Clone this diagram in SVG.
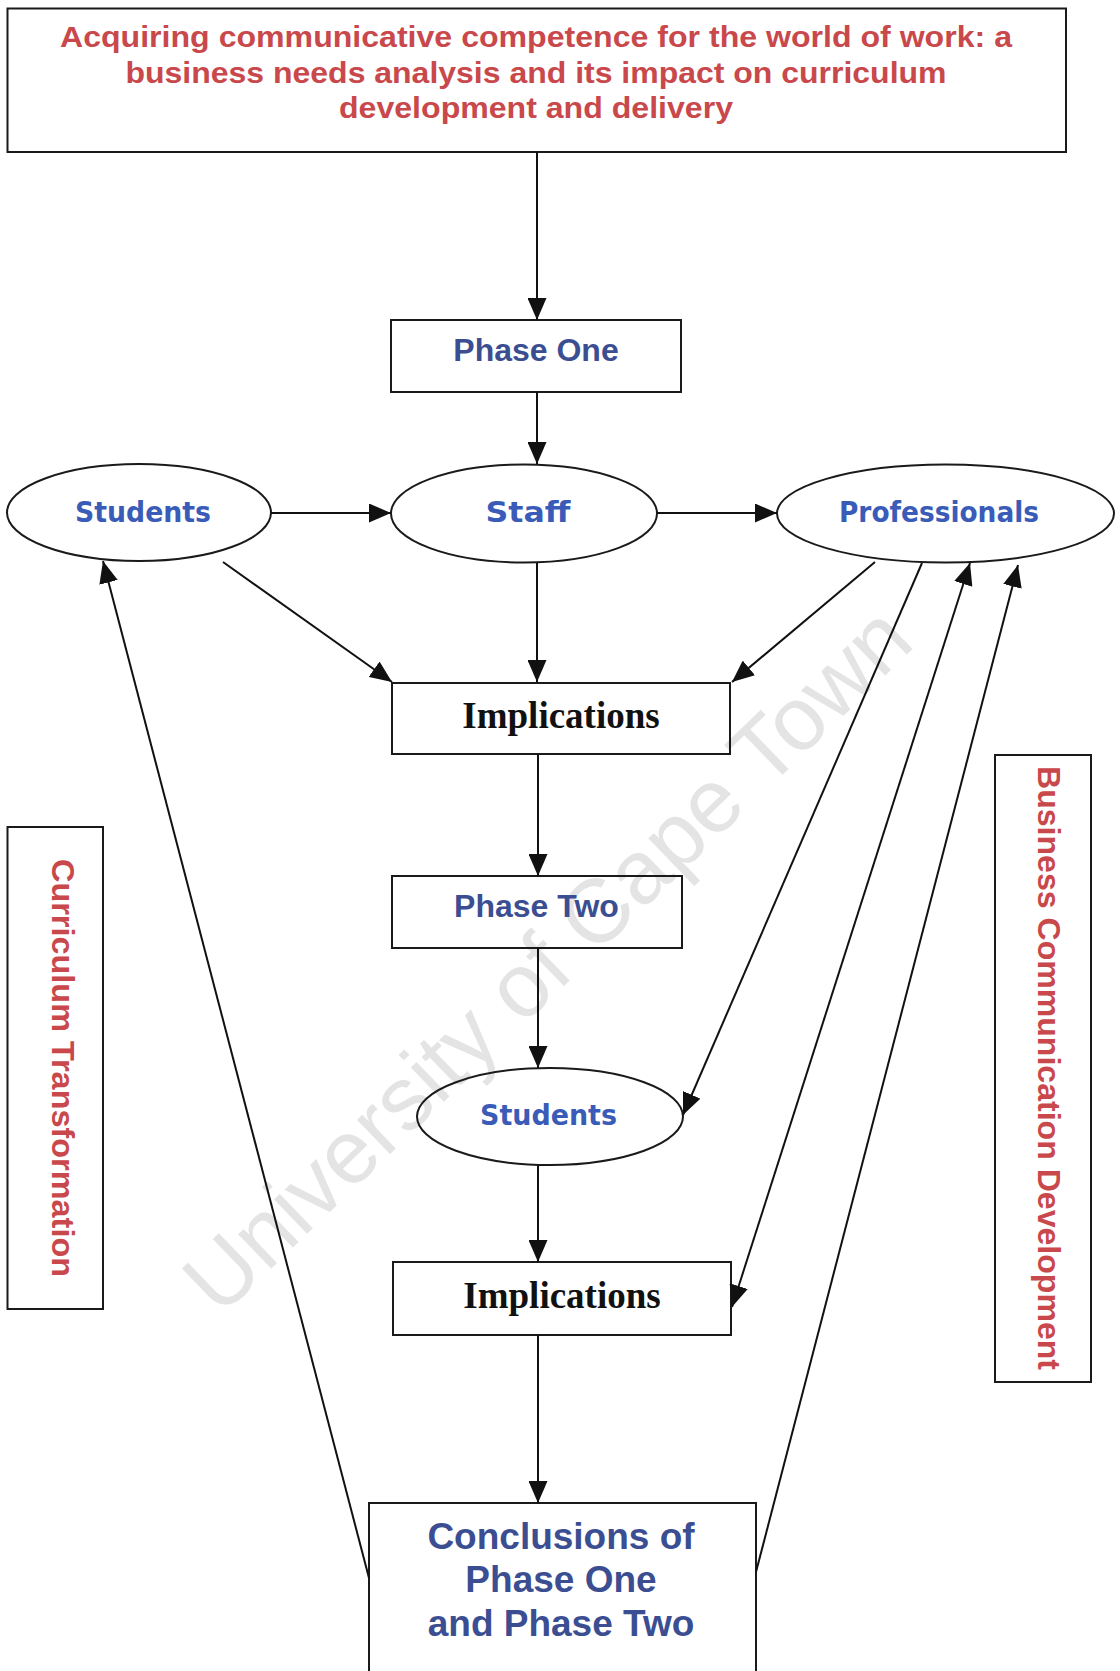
<svg xmlns="http://www.w3.org/2000/svg" width="1120" height="1671" viewBox="0 0 1120 1671">
<defs>
<marker id="ah" markerUnits="userSpaceOnUse" markerWidth="22" markerHeight="19" refX="22" refY="9.5" orient="auto-start-reverse" viewBox="0 0 22 19">
<path d="M0,0 L22,9.5 L0,19 z" fill="#111"/>
</marker>
<style>
.box{fill:none;stroke:#1a1a1a;stroke-width:2}
.ell{fill:none;stroke:#1a1a1a;stroke-width:2}
.red{font-family:"Liberation Sans",Arial,sans-serif;font-weight:bold;fill:#c9484b}
.blue{font-family:"Liberation Sans",Arial,sans-serif;font-weight:bold;fill:#3b4e92}
.comic{font-family:"Comic Sans MS","DejaVu Sans",sans-serif;font-weight:bold;fill:#3a5cb8;font-size:28px}
.imp{font-family:"Liberation Serif","Times New Roman",serif;font-weight:bold;fill:#111;font-size:37px}
.conn line{stroke:#111;stroke-width:2}
.wm{font-family:"Liberation Sans",Arial,sans-serif;fill:#e4e4e4;font-size:90px}
</style>
</defs>
<rect width="1120" height="1671" fill="#fff"/>
<text class="wm" transform="translate(220,1318) rotate(-44)">University of Cape Town</text>

<g id="title">
<rect class="box" x="7.5" y="8.5" width="1058.5" height="143.5"/>
<text class="red" font-size="29" text-anchor="middle" x="536" y="47" textLength="952" lengthAdjust="spacingAndGlyphs">Acquiring communicative competence for the world of work: a</text>
<text class="red" font-size="29" text-anchor="middle" x="536" y="82.5" textLength="821" lengthAdjust="spacingAndGlyphs">business needs analysis and its impact on curriculum</text>
<text class="red" font-size="29" text-anchor="middle" x="536" y="118" textLength="394" lengthAdjust="spacingAndGlyphs">development and delivery</text>
</g>

<g id="phase-one">
<rect class="box" x="391" y="320" width="290" height="72"/>
<text class="blue" font-size="32" text-anchor="middle" x="536" y="361">Phase One</text>
</g>

<g id="students-1">
<ellipse class="ell" cx="139" cy="512.5" rx="132" ry="48.5"/>
<text class="comic" text-anchor="middle" x="143" y="522" textLength="136" lengthAdjust="spacingAndGlyphs">Students</text>
</g>

<g id="staff">
<ellipse class="ell" cx="524" cy="513.5" rx="133" ry="49"/>
<text class="comic" text-anchor="middle" x="528" y="522" textLength="85" lengthAdjust="spacingAndGlyphs">Staff</text>
</g>

<g id="professionals">
<ellipse class="ell" cx="945.5" cy="513.5" rx="168.5" ry="49"/>
<text class="comic" text-anchor="middle" x="939" y="522" textLength="200" lengthAdjust="spacingAndGlyphs">Professionals</text>
</g>

<g id="implications-1">
<rect class="box" x="392" y="683" width="338" height="71"/>
<text class="imp" text-anchor="middle" x="561" y="728">Implications</text>
</g>

<g id="phase-two">
<rect class="box" x="392" y="876" width="290" height="72"/>
<text class="blue" font-size="32" text-anchor="middle" x="536.5" y="917">Phase Two</text>
</g>

<g id="students-2">
<ellipse class="ell" cx="550" cy="1116.5" rx="133" ry="48.5"/>
<text class="comic" text-anchor="middle" x="548.5" y="1125" textLength="137" lengthAdjust="spacingAndGlyphs">Students</text>
</g>

<g id="implications-2">
<rect class="box" x="393" y="1262" width="338" height="73"/>
<text class="imp" text-anchor="middle" x="562" y="1308">Implications</text>
</g>

<g id="conclusions">
<path class="box" d="M369,1675 V1503 H756 V1675"/>
<text class="blue" font-size="37" text-anchor="middle" x="561" y="1549">Conclusions of</text>
<text class="blue" font-size="37" text-anchor="middle" x="561" y="1592">Phase One</text>
<text class="blue" font-size="37" text-anchor="middle" x="561" y="1636">and Phase Two</text>
</g>

<g id="curriculum-transformation">
<rect class="box" x="7.5" y="827" width="95.5" height="482"/>
<text class="red" font-size="32" text-anchor="middle" transform="translate(52,1068) rotate(90)" x="0" y="0" textLength="418" lengthAdjust="spacingAndGlyphs">Curriculum Transformation</text>
</g>

<g id="business-communication-development">
<rect class="box" x="995" y="755" width="96" height="627"/>
<text class="red" font-size="32" text-anchor="middle" transform="translate(1038,1068) rotate(90)" x="0" y="0" textLength="604" lengthAdjust="spacingAndGlyphs">Business Communication Development</text>
</g>

<g id="connectors" class="conn">
<line x1="537" y1="152" x2="537" y2="320" marker-end="url(#ah)"/>
<line x1="537" y1="392" x2="537" y2="464" marker-end="url(#ah)"/>
<line x1="271" y1="513" x2="391" y2="513" marker-end="url(#ah)"/>
<line x1="657" y1="513" x2="777" y2="513" marker-end="url(#ah)"/>
<line x1="223" y1="562" x2="392" y2="682" marker-end="url(#ah)"/>
<line x1="537" y1="563" x2="537" y2="682" marker-end="url(#ah)"/>
<line x1="875" y1="562" x2="732" y2="682" marker-end="url(#ah)"/>
<line x1="538" y1="754" x2="538" y2="876" marker-end="url(#ah)"/>
<line x1="538" y1="948" x2="538" y2="1068" marker-end="url(#ah)"/>
<line x1="538" y1="1165" x2="538" y2="1262" marker-end="url(#ah)"/>
<line x1="538" y1="1335" x2="538" y2="1503" marker-end="url(#ah)"/>
<line x1="922" y1="563" x2="683" y2="1115" marker-end="url(#ah)"/>
<line x1="732" y1="1307" x2="970" y2="563" marker-start="url(#ah)" marker-end="url(#ah)"/>
<line x1="756" y1="1572" x2="1018" y2="565" marker-end="url(#ah)"/>
<line x1="369" y1="1578" x2="103" y2="561" marker-end="url(#ah)"/>
</g>
</svg>
